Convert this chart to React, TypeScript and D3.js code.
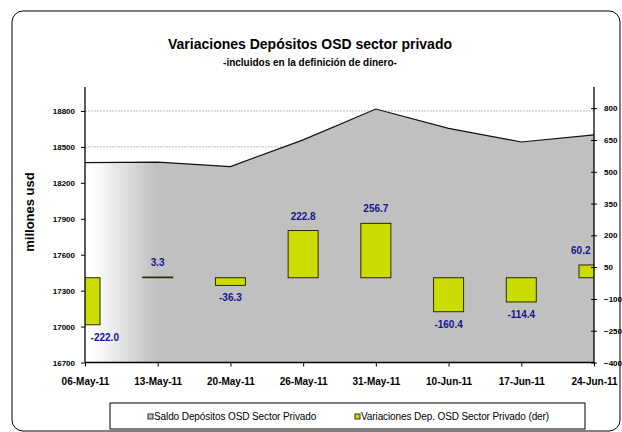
import React, { useEffect, useRef } from 'react';
import * as d3 from 'd3';

// fechas del eje x
const fechas = ['06-May-11', '13-May-11', '20-May-11', '26-May-11', '31-May-11', '10-Jun-11', '17-Jun-11', '24-Jun-11'];
// saldo (eje izq, millones usd)
const saldo = [18369, 18372, 18336, 18559, 18816, 18655, 18541, 18601];
// variaciones (eje der)
const variaciones = [-222.0, 3.3, -36.3, 222.8, 256.7, -160.4, -114.4, 60.2];
const ticksIzq = [16700, 17000, 17300, 17600, 17900, 18200, 18500, 18800];
const ticksDer = [-400, -250, -100, 50, 200, 350, 500, 650, 800];

const FONT = '"Liberation Sans", Arial, sans-serif';

export default function App() {
  const ref = useRef<SVGSVGElement | null>(null);

  useEffect(() => {
    const svg = d3.select(ref.current);
    svg.selectAll('*').remove();
    svg.attr('font-family', FONT);

    const left = 85, right = 594, top = 87, bottom = 362.5;

    const x = d3.scalePoint<string>().domain(fechas).range([left, right]);
    const yIzq = d3.scaleLinear().domain([16700, 19000]).range([bottom, top]);
    const yDer = d3.scaleLinear().domain([-400, 900]).range([bottom, top]);

    // marco exterior
    svg.append('rect')
      .attr('x', 12).attr('y', 11).attr('width', 608).attr('height', 420)
      .attr('rx', 11).attr('fill', '#fff').attr('stroke', '#000').attr('stroke-width', 1);

    const defs = svg.append('defs');
    const grad = defs.append('linearGradient')
      .attr('id', 'fade').attr('gradientUnits', 'userSpaceOnUse')
      .attr('x1', 92).attr('x2', 156).attr('y1', 0).attr('y2', 0);
    grad.append('stop').attr('offset', 0).attr('stop-color', '#ffffff');
    grad.append('stop').attr('offset', 1).attr('stop-color', '#c0c0c0');

    defs.append('clipPath').attr('id', 'plot')
      .append('rect').attr('x', left).attr('y', top).attr('width', right - left).attr('height', bottom - top);

    // títulos
    svg.append('text').attr('x', 310).attr('y', 49).attr('text-anchor', 'middle')
      .attr('font-size', 14).attr('font-weight', 'bold').text('Variaciones Depósitos OSD sector privado');
    svg.append('text').attr('x', 310).attr('y', 66).attr('text-anchor', 'middle')
      .attr('font-size', 10).attr('font-weight', 'bold').text('-incluidos en la definición de dinero-');

    // grilla
    svg.append('g').selectAll('line').data(ticksIzq.slice(1)).join('line')
      .attr('x1', left).attr('x2', right)
      .attr('y1', d => yIzq(d)).attr('y2', d => yIzq(d))
      .attr('stroke', '#a6a6a6').attr('stroke-width', 0.8).attr('stroke-dasharray', '2,1');

    // área saldo
    const area = d3.area<number>()
      .x((d, i) => x(fechas[i]) as number)
      .y0(bottom)
      .y1(d => yIzq(d));
    svg.append('path').datum(saldo).attr('d', area).attr('fill', 'url(#fade)');
    const line = d3.line<number>().x((d, i) => x(fechas[i]) as number).y(d => yIzq(d));
    svg.append('path').datum(saldo).attr('d', line)
      .attr('fill', 'none').attr('stroke', '#111').attr('stroke-width', 1.2);

    // barras variaciones
    const bw = 30;
    svg.append('g').attr('clip-path', 'url(#plot)')
      .selectAll('rect').data(variaciones).join('rect')
      .attr('x', (d, i) => (x(fechas[i]) as number) - bw / 2)
      .attr('width', bw)
      .attr('y', d => yDer(Math.max(0, d)))
      .attr('height', d => Math.abs(yDer(0) - yDer(d)))
      .attr('fill', '#cbdc00')
      .attr('stroke', '#2b2b00').attr('stroke-width', 1);

    // etiquetas
    svg.append('g').selectAll('text').data(variaciones).join('text')
      .attr('x', (d, i) => {
        const w = d.toFixed(1).length * 5.6;
        const cx = x(fechas[i]) as number;
        return Math.max(left + w / 2 + 3, Math.min(right - w / 2 - 2, cx));
      })
      .attr('y', d => (d >= 0 ? yDer(d) - 11 : yDer(d) + 16))
      .attr('text-anchor', 'middle').attr('font-size', 10).attr('font-weight', 'bold')
      .attr('fill', '#16168f')
      .text(d => d.toFixed(1));

    // ejes
    const axIzq = svg.append('g').attr('transform', `translate(${left},0)`)
      .call(d3.axisLeft(yIzq).tickValues(ticksIzq).tickSize(4).tickPadding(6).tickFormat(d3.format('d')));
    const axDer = svg.append('g').attr('transform', `translate(${right},0)`)
      .call(d3.axisRight(yDer).tickValues(ticksDer).tickSize(3).tickPadding(7).tickFormat(d3.format('d')));
    axDer.selectAll('.tick line').attr('x1', -3);
    const axX = svg.append('g').attr('transform', `translate(0,${bottom})`)
      .call(d3.axisBottom(x).tickSize(4).tickPadding(11));

    [axIzq, axDer].forEach(g => {
      g.select('.domain').attr('d', `M0,${top}V${bottom}`).attr('stroke', '#000').attr('stroke-width', 1.3);
      g.selectAll('text').attr('font-size', 8).attr('font-weight', 'bold').attr('font-family', FONT).attr('fill', '#000');
    });
    axX.select('.domain').attr('d', `M${left},0H${right}`).attr('stroke', '#000').attr('stroke-width', 1.3);
    axX.selectAll('text').attr('font-size', 10).attr('font-weight', 'bold').attr('font-family', FONT).attr('fill', '#000');

    // título eje y
    svg.append('text').attr('transform', 'translate(34,212) rotate(-90)')
      .attr('text-anchor', 'middle').attr('font-size', 13).attr('font-weight', 'bold').text('millones usd');

    // leyenda
    const lg = svg.append('g');
    lg.append('rect').attr('x', 110).attr('y', 403).attr('width', 475).attr('height', 26)
      .attr('fill', '#fff').attr('stroke', '#000').attr('stroke-width', 1);
    const items = [
      { label: 'Saldo Depósitos OSD Sector Privado', color: '#c0c0c0', x: 148 },
      { label: 'Variaciones Dep. OSD Sector Privado (der)', color: '#cbdc00', x: 355 },
    ];
    items.forEach(it => {
      lg.append('rect').attr('x', it.x).attr('y', 414).attr('width', 5).attr('height', 5)
        .attr('fill', it.color).attr('stroke', '#333').attr('stroke-width', 1);
      lg.append('text').attr('x', it.x + 6).attr('y', 420).attr('font-size', 10)
        .attr('letter-spacing', -0.1).text(it.label);
    });
  }, []);

  return (
    <svg ref={ref} width={622} height={432}
      style={{ position: 'absolute', left: 0, top: 0, display: 'block' }} />
  );
}
